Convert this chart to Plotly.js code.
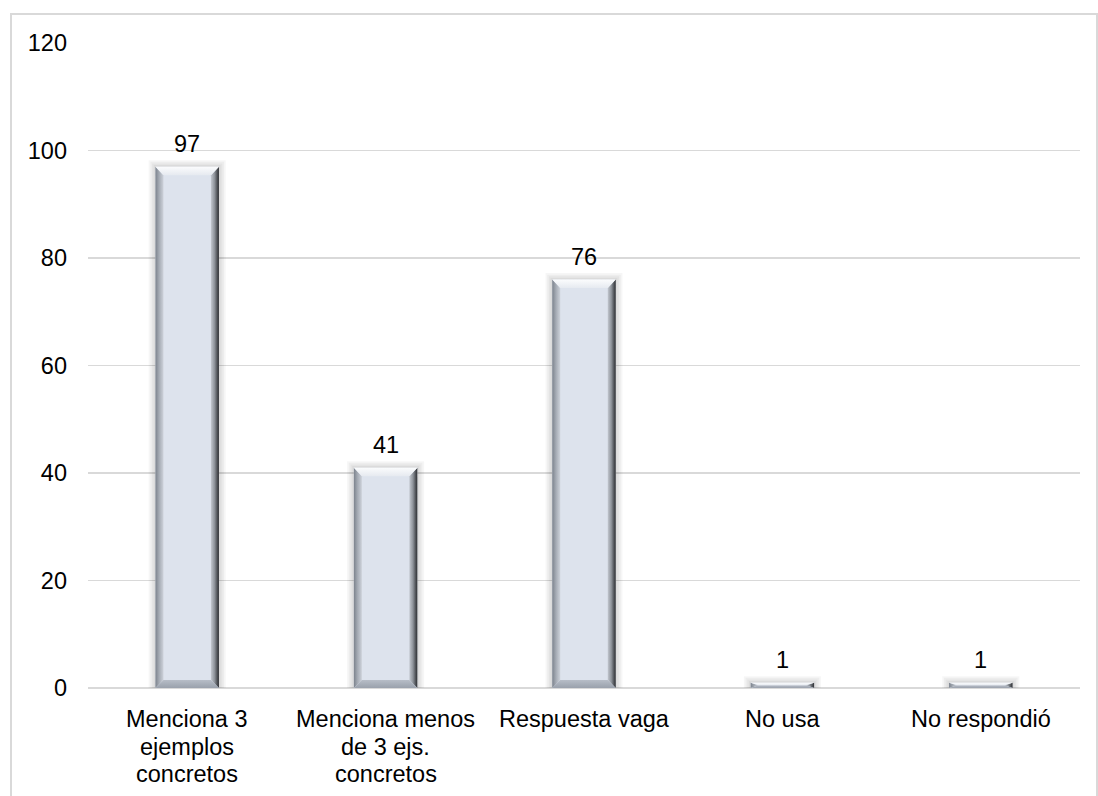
<!DOCTYPE html>
<html>
<head>
<meta charset="utf-8">
<script src="https://cdn.plot.ly/plotly-3.0.1.min.js"></script>
<style>
  html, body { margin: 0; padding: 0; background: #fff; }
  #chart { width: 1098px; height: 796px; }
</style>
</head>
<body>
<div id="chart"></div>
<script>
// Survey answers and their counts
const categories = [
  "Menciona 3<br>ejemplos<br>concretos",
  "Menciona menos<br>de 3 ejs.<br>concretos",
  "Respuesta vaga",
  "No usa",
  "No respondió"
];
const counts = [97, 41, 76, 1, 1];
const yTicks = [0, 20, 40, 60, 80, 100, 120];

// Page and plot geometry
const W = 1098, H = 796;
const M = { l: 88, r: 18, t: 43, b: 108 };
const Y_MAX = 120;
const pxPerX = (W - M.l - M.r) / categories.length;   // pixels per category unit
const pxPerY = (H - M.t - M.b) / Y_MAX;               // pixels per count unit

const BAR_W = 0.32;
const bevelX = 8 / pxPerX;
const bevelTop = 8.5 / pxPerY;
const bevelBottom = 8 / pxPerY;

const xs = categories.map((_, i) => i);
const FONT = "Liberation Sans, Arial, Helvetica, sans-serif";
const FONT_SIZE = 23.5;
const LINE_STEP = 27.5;   // px between lines of a category label

const traces = [];

// Soft shadow around each bar: a few translucent, progressively larger bars
for (let k = 4; k >= 1; k--) {
  traces.push({
    type: "bar",
    x: xs,
    y: counts.map(v => v + k * 1.6 / pxPerY),
    width: BAR_W + 2 * k * 1.7 / pxPerX,
    marker: { color: "rgba(0,0,0,0.035)", line: { width: 0 } },
    hoverinfo: "skip",
    showlegend: false
  });
}

// Bar face
traces.push({
  type: "bar",
  x: xs,
  y: counts,
  width: BAR_W,
  marker: { color: "#dde3ed", line: { width: 0 } },
  hoverinfo: "skip",
  showlegend: false
});

// Bevelled edges drawn as gradient-filled polygons on the same axes
function poly(px, py, type, scale) {
  traces.push({
    type: "scatter",
    mode: "lines",
    x: px.concat([px[0]]),
    y: py.concat([py[0]]),
    fill: "toself",
    fillgradient: { type: type, colorscale: scale },
    line: { width: 0 },
    hoverinfo: "skip",
    showlegend: false
  });
}

counts.forEach((v, i) => {
  const x0 = i - BAR_W / 2, x1 = i + BAR_W / 2;
  const dt = Math.min(bevelTop, v / 2);
  const db = Math.min(bevelBottom, v / 2);
  const dx = bevelX;
  // left edge
  poly([x0, x0, x0 + dx, x0 + dx], [0, v, v - dt, db], "horizontal",
       [[0, "#7c838d"], [0.45, "#a4aab3"], [1, "#cdd2da"]]);
  // right edge
  poly([x1 - dx, x1 - dx, x1, x1], [db, v - dt, v, 0], "horizontal",
       [[0, "#c3c8d0"], [0.45, "#8e939a"], [0.8, "#4d5055"], [1, "#2f3033"]]);
  // bottom edge
  poly([x0, x0 + dx, x1 - dx, x1], [0, db, db, 0], "vertical",
       [[0, "#9aa1ac"], [1, "#b7bdc7"]]);
  // top edge
  poly([x0, x1, x1 - dx, x0 + dx], [v, v, v - dt, v - dt], "vertical",
       [[0, "#e6eaf0"], [1, "#fbfcfd"]]);
});

const textFont = { family: FONT, size: FONT_SIZE, color: "#000" };

// Value labels above the bars
const annotations = counts.map((v, i) => ({
  x: i,
  y: v,
  xref: "x",
  yref: "y",
  text: String(v),
  showarrow: false,
  yanchor: "bottom",
  yshift: 8,
  font: textFont
}));

// Category labels under the axis, one annotation per line for tight spacing
categories.forEach((label, i) => {
  label.split("<br>").forEach((line, k) => {
    annotations.push({
      x: i,
      y: 0,
      xref: "x",
      yref: "paper",
      text: line,
      showarrow: false,
      yanchor: "top",
      yshift: -16 - k * LINE_STEP,
      font: textFont
    });
  });
});

// Outer chart-area frame
const toPaperX = px => (px - M.l) / (W - M.l - M.r);
const toPaperY = py => (H - M.b - py) / (H - M.t - M.b);

const layout = {
  width: W,
  height: H,
  margin: M,
  paper_bgcolor: "#fff",
  plot_bgcolor: "#fff",
  barmode: "overlay",
  showlegend: false,
  font: textFont,
  xaxis: {
    range: [-0.5, categories.length - 0.5],
    tickvals: xs,
    showticklabels: false,
    showgrid: false,
    zeroline: false,
    showline: false,
    ticks: "",
    fixedrange: true
  },
  yaxis: {
    range: [0, Y_MAX],
    tickvals: yTicks,
    showgrid: true,
    gridcolor: "#d9d9d9",
    gridwidth: 1.3,
    zeroline: true,
    zerolinecolor: "#d9d9d9",
    zerolinewidth: 1.3,
    showline: false,
    ticks: "",
    ticklabelstandoff: 20,
    tickfont: textFont,
    fixedrange: true
  },
  annotations: annotations,
  shapes: [{
    type: "rect",
    xref: "paper",
    yref: "paper",
    x0: toPaperX(11),
    x1: toPaperX(1097),
    y0: toPaperY(H + 20),
    y1: toPaperY(14),
    line: { color: "#d9d9d9", width: 2 },
    fillcolor: "rgba(0,0,0,0)",
    layer: "below"
  }]
};

Plotly.newPlot("chart", traces, layout, { displayModeBar: false, staticPlot: true });
</script>
</body>
</html>
